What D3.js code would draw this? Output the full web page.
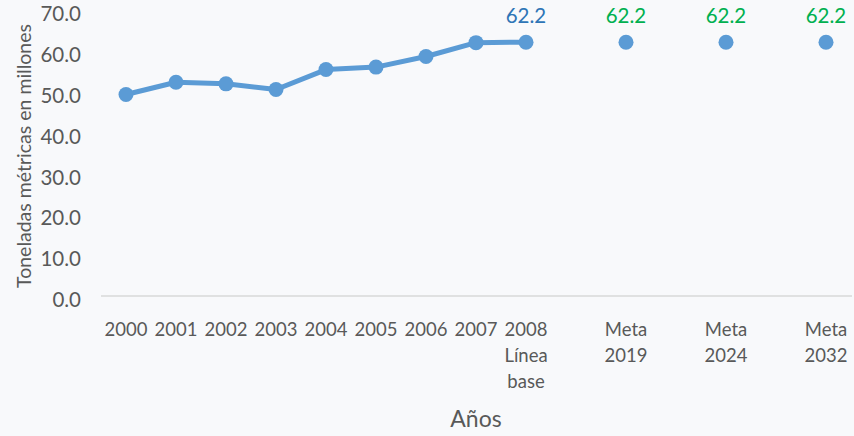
<!DOCTYPE html>
<html>
<head>
<meta charset="utf-8">
<script src="https://cdn.jsdelivr.net/npm/d3@7"></script>
<style>
  body { margin: 0; background: #f8f9fb; }
  svg { display: block; font-family: Lato, "Open Sans", sans-serif; }
</style>
</head>
<body>
<svg width="854" height="436"></svg>
<script>
// categories (gap keys keep the wider spacing between the targets)
var slots = ["2000", "2001", "2002", "2003", "2004", "2005", "2006", "2007", "2008",
             "g1", "Meta 2019", "g2", "Meta 2024", "g3", "Meta 2032"];
var lineCats = ["2000", "2001", "2002", "2003", "2004", "2005", "2006", "2007", "2008"];
var lineVals = [49.4, 52.4, 52.0, 50.6, 55.5, 56.1, 58.7, 62.1, 62.2];
var metaCats = ["Meta 2019", "Meta 2024", "Meta 2032"];
var metaVals = [62.2, 62.2, 62.2];
var tickLabels = {"2008": ["2008", "Línea", "base"], "Meta 2019": ["Meta", "2019"],
                  "Meta 2024": ["Meta", "2024"], "Meta 2032": ["Meta", "2032"]};
var yTicks = [0, 10, 20, 30, 40, 50, 60, 70];

var svg = d3.select("svg");
var blue = "#5b9bd5", grey = "#595959";

var x = d3.scaleBand().domain(slots).range([101, 851]);
var y = d3.scaleLinear().domain([0, 70]).range([296, 10.4]);
var cx = function(c) { return x(c) + x.bandwidth() / 2; };

// y axis labels (no line), sit a bit below their value like the original
var ya = svg.append("g").attr("transform", "translate(81,4)")
  .call(d3.axisLeft(y).tickValues(yTicks).tickFormat(d3.format(".1f")).tickSize(0).tickPadding(0));
ya.select(".domain").remove();
ya.selectAll("text").attr("fill", grey).style("font-size", "20.5px").style("font-family", "Lato");

// baseline
svg.append("line").attr("x1", 101).attr("x2", 852).attr("y1", y(0)).attr("y2", y(0))
  .attr("stroke", "#d9d9d9").attr("stroke-width", 1.5);

// x axis labels
var xa = svg.append("g").attr("transform", "translate(0," + y(0) + ")")
  .call(d3.axisBottom(x).tickValues(lineCats.concat(metaCats)).tickSize(0).tickPadding(0));
xa.select(".domain").remove();
xa.selectAll("text").each(function(d) {
  var t = d3.select(this).text(null).attr("fill", grey).attr("y", 0).attr("dy", null)
    .style("font-size", "18.5px").style("font-family", "Lato");
  var lines = tickLabels[d] || [d];
  lines.forEach(function(s, i) {
    t.append("tspan").attr("x", 0).attr("y", 40 + i * 26).text(s);
  });
});

// line
svg.append("path").datum(lineVals)
  .attr("fill", "none").attr("stroke", blue).attr("stroke-width", 5).attr("stroke-linejoin", "round")
  .attr("d", d3.line().x(function(d, i) { return cx(lineCats[i]); }).y(function(d) { return y(d); }));

svg.append("g").selectAll("circle").data(lineVals).enter().append("circle")
  .attr("cx", function(d, i) { return cx(lineCats[i]); })
  .attr("cy", function(d) { return y(d); })
  .attr("r", 7.5).attr("fill", blue);

svg.append("g").selectAll("circle").data(metaVals).enter().append("circle")
  .attr("cx", function(d, i) { return cx(metaCats[i]); })
  .attr("cy", function(d) { return y(d); })
  .attr("r", 7.5).attr("fill", blue);

// data labels
svg.append("text").attr("x", cx("2008")).attr("y", y(lineVals[8]) - 19)
  .attr("text-anchor", "middle").attr("fill", "#2e75b6").style("font-size", "20.5px")
  .text(d3.format(".1f")(lineVals[8]));
svg.append("g").selectAll("text").data(metaVals).enter().append("text")
  .attr("x", function(d, i) { return cx(metaCats[i]); })
  .attr("y", function(d) { return y(d) - 19; })
  .attr("text-anchor", "middle").attr("fill", "#00b050").style("font-size", "20.5px")
  .text(d3.format(".1f"));

// axis titles
svg.append("text").attr("x", 476).attr("y", 427).attr("text-anchor", "middle")
  .attr("fill", grey).style("font-size", "23px").text("Años");
svg.append("text").attr("transform", "translate(31,156) rotate(-90)").attr("text-anchor", "middle")
  .attr("fill", grey).style("font-size", "19.5px").text("Toneladas métricas en millones");
</script>
</body>
</html>
